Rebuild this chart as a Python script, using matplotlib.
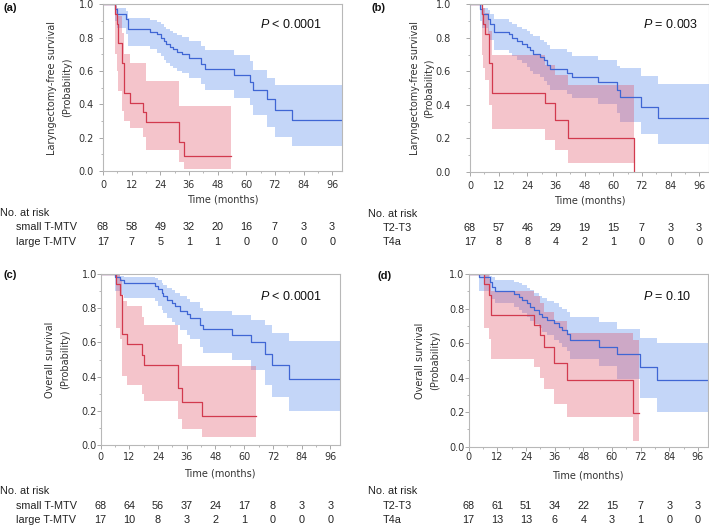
import matplotlib
matplotlib.use("Agg")
import matplotlib.pyplot as plt
from matplotlib.ticker import MultipleLocator

plt.rcParams['mathtext.fontset'] = 'custom'
plt.rcParams['mathtext.rm'] = 'Liberation Sans'
plt.rcParams['mathtext.it'] = 'Liberation Sans:italic'

# ---------------- data ----------------
# Panel (a) laryngectomy-free survival by T-MTV
A_blue_t = [0, 5, 6, 9.5, 10.5, 19.7, 22.5, 24.5, 25.5, 26.6, 28, 29.4, 30.8, 33, 36.1, 41, 42.7, 55, 61.5, 62.9, 68.9, 72, 79]
A_blue_s = [1.0, 0.97, 0.94, 0.91, 0.85, 0.835, 0.82, 0.80, 0.78, 0.76, 0.745, 0.73, 0.715, 0.70, 0.675, 0.64, 0.61, 0.575, 0.535, 0.485, 0.43, 0.365, 0.305]
A_blue_lo = [1.0, 0.90, 0.86, 0.82, 0.75, 0.73, 0.71, 0.69, 0.665, 0.645, 0.63, 0.615, 0.60, 0.585, 0.56, 0.52, 0.485, 0.44, 0.395, 0.335, 0.265, 0.205, 0.152]
A_blue_hi = [1.0, 0.995, 0.98, 0.96, 0.915, 0.905, 0.895, 0.88, 0.865, 0.85, 0.84, 0.83, 0.815, 0.805, 0.78, 0.75, 0.725, 0.695, 0.66, 0.605, 0.56, 0.515, 0.515]
A_blue_end = 100
A_red_t = [0, 5, 5.7, 6.2, 8, 8.9, 11.3, 16.9, 17.9, 31.9, 33.9]
A_red_s = [1.0, 0.94, 0.88, 0.765, 0.647, 0.47, 0.41, 0.353, 0.294, 0.176, 0.088]
A_red_lo = [1.0, 0.70, 0.60, 0.48, 0.36, 0.30, 0.255, 0.205, 0.125, 0.055, 0.012]
A_red_hi = [1.0, 0.99, 0.98, 0.93, 0.83, 0.70, 0.645, 0.645, 0.54, 0.39, 0.39]
A_red_end = 53.8

# Panel (b) laryngectomy-free survival by T stage
B_blue_t = [0, 4, 5, 7.5, 8.5, 10.2, 16.2, 17.6, 19.7, 21.8, 23.8, 25.2, 26.6, 29.4, 30.8, 32.2, 33.6, 40.6, 42.7, 53.8, 61.5, 62.9, 71.7, 78.9]
B_blue_s = [1.0, 0.97, 0.945, 0.915, 0.885, 0.835, 0.82, 0.80, 0.78, 0.765, 0.745, 0.725, 0.705, 0.685, 0.665, 0.64, 0.615, 0.59, 0.568, 0.535, 0.49, 0.45, 0.385, 0.32]
B_blue_lo = [1.0, 0.90, 0.86, 0.82, 0.785, 0.725, 0.71, 0.69, 0.67, 0.65, 0.625, 0.605, 0.585, 0.565, 0.545, 0.52, 0.49, 0.465, 0.44, 0.405, 0.35, 0.30, 0.225, 0.168]
B_blue_hi = [1.0, 0.995, 0.98, 0.965, 0.945, 0.91, 0.895, 0.88, 0.865, 0.855, 0.84, 0.825, 0.81, 0.79, 0.775, 0.755, 0.735, 0.715, 0.69, 0.665, 0.63, 0.62, 0.57, 0.525]
B_blue_end = 100
B_red_t = [0, 4.9, 5.6, 6.2, 8.0, 9.3, 31.6, 35.7, 41.1, 68.8]
B_red_s = [1.0, 0.94, 0.88, 0.82, 0.647, 0.47, 0.41, 0.31, 0.205, 0.0]
B_red_lo = [1.0, 0.70, 0.62, 0.55, 0.40, 0.255, 0.19, 0.13, 0.055, 0.0]
B_red_hi = [1.0, 0.99, 0.975, 0.95, 0.84, 0.70, 0.64, 0.58, 0.52, 0.0]
B_red_end = 68.8

# Panel (c) overall survival by T-MTV
C_blue_t = [0, 6, 8.2, 10, 22.8, 24.2, 25.6, 26.3, 27.7, 29.8, 31.2, 33.3, 36, 37.4, 41.6, 43, 54.9, 63, 68.8, 71.6, 78.6]
C_blue_s = [1.0, 0.985, 0.965, 0.945, 0.93, 0.91, 0.89, 0.87, 0.85, 0.83, 0.81, 0.785, 0.765, 0.74, 0.70, 0.677, 0.644, 0.60, 0.535, 0.465, 0.385]
C_blue_lo = [1.0, 0.90, 0.88, 0.86, 0.84, 0.815, 0.79, 0.77, 0.745, 0.72, 0.70, 0.67, 0.645, 0.62, 0.575, 0.54, 0.495, 0.44, 0.35, 0.28, 0.20]
C_blue_hi = [1.0, 0.998, 0.99, 0.985, 0.975, 0.965, 0.95, 0.935, 0.92, 0.905, 0.89, 0.87, 0.855, 0.835, 0.80, 0.785, 0.76, 0.73, 0.70, 0.655, 0.61]
C_blue_end = 100
C_red_t = [0, 6.3, 8.2, 8.9, 11.2, 17.2, 18.3, 32.3, 34.2, 42.3]
C_red_s = [1.0, 0.94, 0.88, 0.647, 0.588, 0.529, 0.47, 0.335, 0.25, 0.168]
C_red_lo = [1.0, 0.685, 0.62, 0.405, 0.352, 0.30, 0.255, 0.15, 0.092, 0.045]
C_red_hi = [1.0, 0.995, 0.97, 0.84, 0.81, 0.75, 0.70, 0.59, 0.46, 0.46]
C_red_end = 64.9

# Panel (d) overall survival by T stage
D_blue_t = [0, 4.2, 9, 9.7, 11.2, 18.8, 20.9, 22.3, 24.4, 25.8, 27.2, 29.3, 30.7, 32.8, 35.6, 37.7, 39, 41.1, 42.5, 54.4, 62, 71.8, 78.8]
D_blue_s = [1.0, 0.985, 0.955, 0.925, 0.90, 0.885, 0.865, 0.85, 0.83, 0.81, 0.79, 0.77, 0.752, 0.735, 0.714, 0.695, 0.676, 0.655, 0.62, 0.58, 0.535, 0.46, 0.385]
D_blue_lo = [1.0, 0.90, 0.88, 0.855, 0.83, 0.81, 0.79, 0.775, 0.75, 0.73, 0.71, 0.685, 0.665, 0.645, 0.62, 0.60, 0.58, 0.555, 0.51, 0.465, 0.39, 0.28, 0.203]
D_blue_hi = [1.0, 0.998, 0.99, 0.98, 0.965, 0.955, 0.945, 0.935, 0.92, 0.905, 0.89, 0.875, 0.86, 0.845, 0.83, 0.81, 0.795, 0.78, 0.75, 0.72, 0.68, 0.63, 0.60]
D_blue_end = 100
D_red_t = [0, 6.3, 8.4, 9.5, 27.2, 30, 31.4, 35.6, 41.1, 68.8]
D_red_s = [1.0, 0.94, 0.88, 0.765, 0.706, 0.647, 0.58, 0.483, 0.386, 0.193]
D_red_lo = [1.0, 0.685, 0.625, 0.51, 0.46, 0.40, 0.335, 0.25, 0.17, 0.035]
D_red_hi = [1.0, 0.995, 0.97, 0.90, 0.87, 0.83, 0.78, 0.73, 0.66, 0.62]
D_red_end = 71.5

risk_times = [0, 12, 24, 36, 48, 60, 72, 84, 96]
A_risk_blue = [68, 58, 49, 32, 20, 16, 7, 3, 3]
A_risk_red = [17, 7, 5, 1, 1, 0, 0, 0, 0]
B_risk_blue = [68, 57, 46, 29, 19, 15, 7, 3, 3]
B_risk_red = [17, 8, 8, 4, 2, 1, 0, 0, 0]
C_risk_blue = [68, 64, 56, 37, 24, 17, 8, 3, 3]
C_risk_red = [17, 10, 8, 3, 2, 1, 0, 0, 0]
D_risk_blue = [68, 61, 51, 34, 22, 15, 7, 3, 3]
D_risk_red = [17, 13, 13, 6, 4, 3, 1, 0, 0]

tmtv_groups = ["small T-MTV", "large T-MTV"]
stage_groups = ["T2-T3", "T4a"]
p_values = ["< 0.0001", "= 0.003", "< 0.0001", "= 0.10"]
panel_tags = ["(a)", "(b)", "(c)", "(d)"]
ylabels = ["Laryngectomy-free survival", "Laryngectomy-free survival", "Overall survival", "Overall survival"]

# ---------------- style ----------------
W, H = 709, 526
BLUE_LINE = '#3f66d4'
RED_LINE = '#d23a4e'
BLUE_BAND = (0.30, 0.52, 0.92)
RED_BAND = (0.88, 0.30, 0.38)
BAND_ALPHA = 0.33
SPINE = '#b8b8b8'
TXT = '#333333'

fig = plt.figure(figsize=(W / 100, H / 100), dpi=100)


def rect(l, r, t, b):
    return [l / W, 1 - b / H, (r - l) / W, (b - t) / H]


def ftext(x, y, s, **kw):
    return fig.text(x / W, 1 - y / H, s, **kw)


def km(ax, t, s, lo, hi, end, lc, bc):
    tt = list(t) + [end]
    ss = list(s) + [s[-1]]
    ll = list(lo) + [lo[-1]]
    hh = list(hi) + [hi[-1]]
    ax.fill_between(tt, ll, hh, step='post', color=bc, alpha=BAND_ALPHA, lw=0, zorder=1)
    return tt, ss, lc


panels = [
    dict(rect=(103, 341.7, 4.3, 171), blue=(A_blue_t, A_blue_s, A_blue_lo, A_blue_hi, A_blue_end),
         red=(A_red_t, A_red_s, A_red_lo, A_red_hi, A_red_end), risk=(A_risk_blue, A_risk_red),
         groups=tmtv_groups, xpad=5, ypad=5.5,
         ylab_x=(52, 67), ptxt=(260, 25), tag=(3, 8),
         tlab=(200), nar=(0, 213), rows=(16, 226.7, 241.7)),
    dict(rect=(470, 708.7, 4.3, 172), blue=(B_blue_t, B_blue_s, B_blue_lo, B_blue_hi, B_blue_end),
         red=(B_red_t, B_red_s, B_red_lo, B_red_hi, B_red_end), risk=(B_risk_blue, B_risk_red),
         groups=stage_groups, xpad=5.5, ypad=15.5,
         ylab_x=(414.5, 429.0), ptxt=(643, 25), tag=(372, 8),
         tlab=(200.7), nar=(368, 214), rows=(383, 227.7, 241.7)),
    dict(rect=(100.5, 340, 274, 445), blue=(C_blue_t, C_blue_s, C_blue_lo, C_blue_hi, C_blue_end),
         red=(C_red_t, C_red_s, C_red_lo, C_red_hi, C_red_end), risk=(C_risk_blue, C_risk_red),
         groups=tmtv_groups, xpad=3, ypad=0,
         ylab_x=(50, 65), ptxt=(260, 297), tag=(3, 275),
         tlab=(474), nar=(0, 491), rows=(16, 505.7, 520)),
    dict(rect=(468.7, 707.5, 274, 446.7), blue=(D_blue_t, D_blue_s, D_blue_lo, D_blue_hi, D_blue_end),
         red=(D_red_t, D_red_s, D_red_lo, D_red_hi, D_red_end), risk=(D_risk_blue, D_risk_red),
         groups=stage_groups, xpad=1.5, ypad=0.5,
         ylab_x=(420, 435), ptxt=(643, 297), tag=(378, 276),
         tlab=(475), nar=(368, 490.7), rows=(383, 505.7, 520)),
]

for i, p in enumerate(panels):
    l, r, t, b = p['rect']
    ax = fig.add_axes(rect(l, r, t, b))
    ax.set_xlim(0, 100)
    ax.set_ylim(0, 1)
    lines = []
    lines.append(km(ax, *p['blue'], BLUE_LINE, BLUE_BAND))
    lines.append(km(ax, *p['red'], RED_LINE, RED_BAND))
    for tt, ss, lc in lines:
        ax.step(tt, ss, where='post', color=lc, lw=0.9, zorder=3)
    for sp in ax.spines.values():
        sp.set_color(SPINE)
        sp.set_linewidth(0.8)
        sp.set_zorder(4)
    ax.xaxis.set_major_locator(MultipleLocator(12))
    ax.xaxis.set_minor_locator(MultipleLocator(6))
    ax.yaxis.set_major_locator(MultipleLocator(0.2))
    ax.yaxis.set_minor_locator(MultipleLocator(0.1))
    ax.set_yticks([0, 0.2, 0.4, 0.6, 0.8, 1.0])
    ax.set_yticklabels(['0.0', '0.2', '0.4', '0.6', '0.8', '1.0'])
    ax.tick_params(which='major', length=2.6, width=0.6, color='#9a9a9a', labelsize=7,
                   labelcolor=TXT)
    ax.tick_params(which='minor', length=1.6, width=0.5, color='#9a9a9a')
    ax.tick_params(axis='x', which='major', pad=p['xpad'] * 0.72)
    ax.tick_params(axis='y', which='major', pad=p['ypad'] * 0.72)
    for lab in ax.get_xticklabels() + ax.get_yticklabels():
        lab.set_fontfamily('DejaVu Sans')

    # y label (two lines)
    yc = (t + b) / 2
    ftext(p['ylab_x'][0], yc, ylabels[i], rotation=90, ha='center', va='center',
          fontsize=7, color=TXT, family='DejaVu Sans')
    ftext(p['ylab_x'][1], yc, '(Probability)', rotation=90, ha='center', va='center',
          fontsize=7, color=TXT, family='DejaVu Sans')
    # x label
    ftext((l + r) / 2, p['tlab'], 'Time (months)', ha='center', va='center',
          fontsize=7, color=TXT, family='DejaVu Sans')
    # p value
    ftext(p['ptxt'][0], p['ptxt'][1], r'$\mathit{P}$ ' + p_values[i], ha='left', va='center',
          fontsize=9, color='#111111', family='Liberation Sans')
    # panel tag
    ftext(p['tag'][0], p['tag'][1], panel_tags[i], ha='left', va='center',
          fontsize=8, fontweight='bold', color='#111111', family='Liberation Sans')
    # risk table
    ftext(p['nar'][0], p['nar'][1], 'No. at risk', ha='left', va='center',
          fontsize=7.8, color='#222222', family='Liberation Sans')
    rx, ry1, ry2 = p['rows']
    ftext(rx, ry1, p['groups'][0], ha='left', va='center', fontsize=7.8, color='#222222',
          family='Liberation Sans')
    ftext(rx, ry2, p['groups'][1], ha='left', va='center', fontsize=7.8, color='#222222',
          family='Liberation Sans')
    trans = ax.get_xaxis_transform()
    for row_y, vals in ((ry1, p['risk'][0]), (ry2, p['risk'][1])):
        yfrac = (b - row_y) / (b - t)
        for tx, v in zip(risk_times, vals):
            ax.text(tx, yfrac, str(v), transform=trans, ha='center', va='center',
                    fontsize=7.8, color='#222222', family='Liberation Sans', clip_on=False)

fig.savefig('out.png', dpi=100)
